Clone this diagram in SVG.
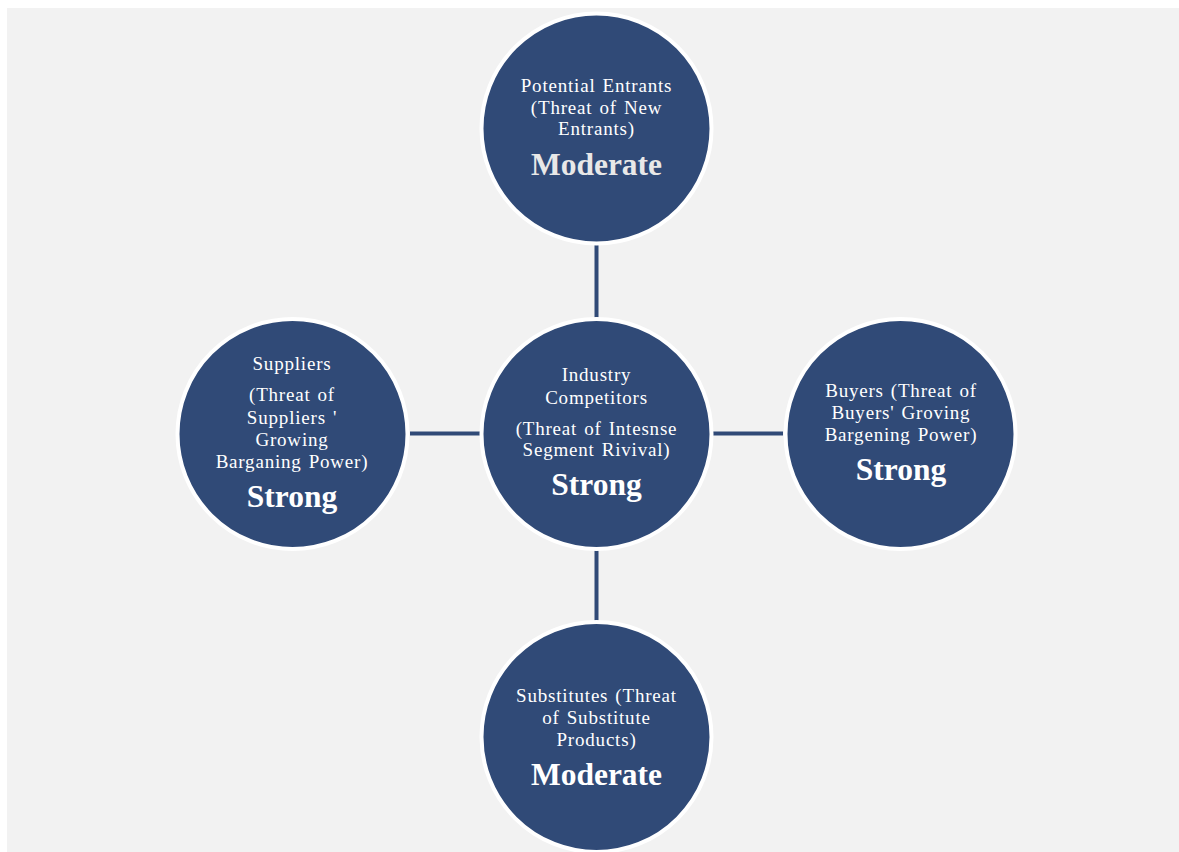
<svg xmlns="http://www.w3.org/2000/svg" width="1179" height="852" viewBox="0 0 1179 852">
<style>
.node{fill:#304a77;stroke:#ffffff;stroke-width:4}
.t{font-family:"Liberation Serif","Times New Roman",serif;font-size:19px;fill:#ffffff;text-anchor:middle;letter-spacing:0.8px;word-spacing:1.5px}
.b{font-family:"Liberation Serif","Times New Roman",serif;font-size:31.5px;font-weight:bold;fill:#ffffff;text-anchor:middle}
.c{stroke:#304a77;stroke-width:4;fill:none}
</style>
<rect x="0" y="0" width="1179" height="852" fill="#ffffff"/>
<rect x="7" y="8" width="1172" height="844" fill="#f2f2f2"/>
<g id="connectors">
<line class="c" x1="596.5" y1="245" x2="596.5" y2="318"/>
<line class="c" x1="596.5" y1="550" x2="596.5" y2="621"/>
<line class="c" x1="410" y1="433.5" x2="480" y2="433.5"/>
<line class="c" x1="713" y1="433.5" x2="783" y2="433.5"/>
</g>
<g id="potential-entrants">
<circle class="node" cx="596.5" cy="128.5" r="115"/>
<text class="t" x="596.5" y="92">Potential Entrants</text>
<text class="t" x="596.5" y="114">(Threat of New</text>
<text class="t" x="596.5" y="135">Entrants)</text>
<text class="b" x="596.5" y="175" style="fill:#e8e8e8">Moderate</text>
</g>
<g id="industry-competitors">
<circle class="node" cx="596.5" cy="434" r="115"/>
<text class="t" x="596.5" y="381">Industry</text>
<text class="t" x="596.5" y="404">Competitors</text>
<text class="t" x="596.5" y="435">(Threat of Intesnse</text>
<text class="t" x="596.5" y="456">Segment Rivival)</text>
<text class="b" x="596.5" y="495">Strong</text>
</g>
<g id="suppliers">
<circle class="node" cx="292.5" cy="434" r="115"/>
<text class="t" x="292" y="370">Suppliers</text>
<text class="t" x="292" y="401">(Threat of</text>
<text class="t" x="292" y="424">Suppliers '</text>
<text class="t" x="292" y="446">Growing</text>
<text class="t" x="292" y="468">Barganing Power)</text>
<text class="b" x="292" y="507">Strong</text>
</g>
<g id="buyers">
<circle class="node" cx="900.5" cy="434" r="115"/>
<text class="t" x="901" y="397">Buyers (Threat of</text>
<text class="t" x="901" y="419">Buyers' Groving</text>
<text class="t" x="901" y="441">Bargening Power)</text>
<text class="b" x="901" y="480">Strong</text>
</g>
<g id="substitutes">
<circle class="node" cx="596.5" cy="737" r="115"/>
<text class="t" x="596.5" y="702">Substitutes (Threat</text>
<text class="t" x="596.5" y="724">of Substitute</text>
<text class="t" x="596.5" y="746">Products)</text>
<text class="b" x="596.5" y="785">Moderate</text>
</g>
</svg>
